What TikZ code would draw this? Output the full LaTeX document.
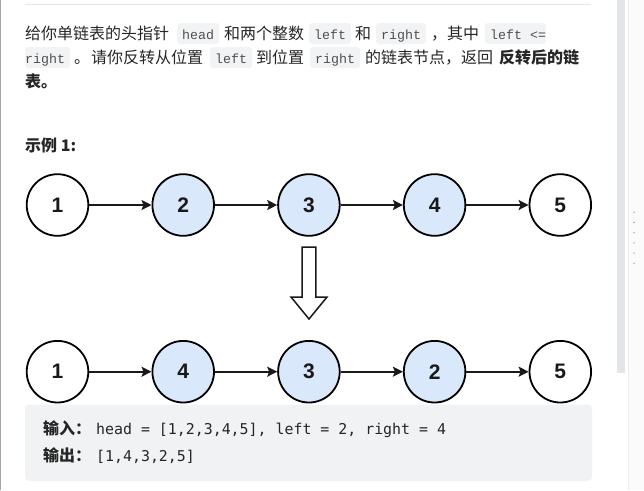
\documentclass[tikz,border=0pt]{standalone}
\usepackage{fontspec}
\setmainfont{Noto Sans CJK SC}
\newfontfamily\codefont{Liberation Mono}
\newfontfamily\monofont{DejaVu Sans Mono}
\newfontfamily\numfont{Liberation Sans}
\usetikzlibrary{arrows.meta}
\definecolor{txt}{RGB}{38,38,38}
\definecolor{codetx}{RGB}{80,80,80}
\definecolor{codebg}{RGB}{242,243,245}
\definecolor{boxbg}{RGB}{241,242,244}
\definecolor{nodeblue}{RGB}{218,232,252}
\definecolor{rule}{RGB}{228,230,235}
\definecolor{sbar}{RGB}{228,229,233}
\begin{document}
\begin{tikzpicture}[x=1pt,y=-1pt,
  cjk/.style={font=\fontsize{16}{16}\selectfont, text=txt, inner sep=0pt, anchor=base west},
  cjkb/.style={cjk, font=\fontsize{16}{16}\selectfont\bfseries},
  codetxt/.style={font=\codefont\fontsize{13.3}{13.3}\selectfont, text=codetx, inner sep=0pt, anchor=base west},
  code/.style={codetxt, fill=codebg, rounded corners=3pt, inner xsep=5pt, inner ysep=0pt, text height=16.5pt, text depth=4.5pt},
  mono/.style={font=\monofont\fontsize{14.9}{14.9}\selectfont, text=txt, inner sep=0pt, anchor=base west},
  lnode/.style={circle, draw=black, line width=1.8pt, minimum size=61.6pt, inner sep=0pt, font=\numfont\bfseries\fontsize{21}{21}\selectfont, text=black!90},
  hl/.style={lnode, fill=nodeblue},
  arr/.style={-{Stealth[length=10pt,width=10pt,inset=2pt]}, line width=1.8pt, draw=black!90}
]
\useasboundingbox (0,0) rectangle (644,490);
% frame pieces
\draw[gray!70, line width=1pt] (0.5,0) -- (0.5,490);
\draw[rule, line width=1pt] (25,4.3) -- (591,4.3);
\fill[sbar] (617,0) rectangle (625,373);
\fill[black!1.5] (628,0) rectangle (644,490);
\draw[black!8, line width=0.8pt] (628,0) -- (628,490);
\foreach \k in {0,...,5} \fill[black!35] (634,212.3+10.2*\k) circle (0.8pt);

% description
\node[cjk] (t1) at (25,39.5) {给你单链表的头指针};
\node[code] (c1) at (177,39.5) {head};
\node[cjk] (t2) at (224,39.5) {和两个整数};
\node[code] (c2) at (309,39.5) {left};
\node[cjk] (t3) at (355,39.5) {和};
\node[code] (c3) at (376,39.5) {right};
\node[cjk] (t4) at (431,39.5) {，其中};
\fill[codebg, rounded corners=3pt] (485,23) rectangle (546,44);
\node[codetxt] (c4) at (490,39.5) {left <=};

\fill[codebg, rounded corners=3pt] (25,47) rectangle (70,68);
\node[codetxt] (c5) at (25,63.5) {right};
\node[cjk] (t5) at (74,63.5) {。};
\node[cjk] (t6) at (91,63.5) {请你反转从位置};
\node[code] (c6) at (210,63.5) {left};
\node[cjk] (t7) at (256,63.5) {到位置};
\node[code] (c7) at (310,63.5) {right};
\node[cjk] (t8) at (365,63.5) {的链表节点，返回};
\node[cjkb] (t9) at (499,63.5) {反转后的链};
\node[cjkb] (t10) at (25,87.5) {表。};

\node[cjkb] (ex) at (25,151) {示例 1:};

% top list
\node[lnode] (n1) at (57.5,205) {1};
\node[hl]    (n2) at (183.2,205) {2};
\node[hl]    (n3) at (308.9,205) {3};
\node[hl]    (n4) at (434.6,205) {4};
\node[lnode] (n5) at (560.3,205) {5};
\draw[arr] (n1) -- (n2);
\draw[arr] (n2) -- (n3);
\draw[arr] (n3) -- (n4);
\draw[arr] (n4) -- (n5);

% hollow arrow
\draw[line width=1.5pt, draw=black!90, fill=white, line join=miter]
  (302.2,247) -- (315.8,247) -- (315.8,297) -- (327,297) -- (309,319) -- (291,297) -- (302.2,297) -- cycle;

% bottom list
\node[lnode] (m1) at (57.5,371.7) {1};
\node[hl]    (m2) at (183.2,371.7) {4};
\node[hl]    (m3) at (308.9,371.7) {3};
\node[hl]    (m4) at (434.6,371.7) {2};
\node[lnode] (m5) at (560.3,371.7) {5};
\draw[arr] (m1) -- (m2);
\draw[arr] (m2) -- (m3);
\draw[arr] (m3) -- (m4);
\draw[arr] (m4) -- (m5);

% example box
\fill[boxbg, rounded corners=4pt] (25,404.5) rectangle (592,481);
\node[cjkb] (in) at (43,434.5) {输入：};
\node[mono] (inv) at (96,434.5) {head = [1,2,3,4,5], left = 2, right = 4};
\node[cjkb] (out) at (43,461.5) {输出：};
\node[mono] (outv) at (96,461.5) {[1,4,3,2,5]};
\end{tikzpicture}
\end{document}
